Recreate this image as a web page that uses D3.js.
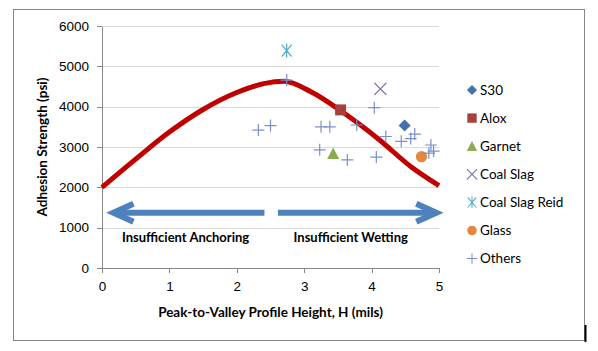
<!DOCTYPE html>
<html lang="en">
<head>
    <meta charset="UTF-8">
    <title>Adhesion Strength vs Profile Height</title>
    <script src="https://cdn.jsdelivr.net/npm/d3@7"></script>
    <style>
        body { margin: 0; background: #fff; }
        svg { font-family: Lato, "Open Sans", sans-serif; }
        .axis path, .axis line { fill: none; stroke: #868686; shape-rendering: crispEdges; }
        .axis text { font-size: 13.5px; fill: #000; }
        .grid line { stroke: #d9d9d9; shape-rendering: crispEdges; }
        .legend text { font-size: 13.5px; fill: #000; }
    </style>
</head>
<body>
<script>
    // series: [H (mils), adhesion (psi)]
    const s30 = [[4.49, 3530]];
    const alox = [[3.54, 3920]];
    const garnet = [[3.43, 2840]];
    const coalSlag = [[4.13, 4440]];
    const coalSlagReid = [[2.74, 5390]];
    const glass = [[4.74, 2760]];
    const others = [
        [2.74, 4660], [2.32, 3420], [2.50, 3530], [3.25, 3500], [3.38, 3500],
        [3.78, 3545], [4.04, 3975], [4.21, 3260], [4.44, 3140], [4.58, 3210],
        [4.64, 3320], [4.88, 3050], [4.92, 2900], [4.85, 2850], [4.07, 2750],
        [3.23, 2930], [3.64, 2680]
    ];

    // trend curve points
    const curveX = [0, 0.5, 1, 1.5, 2, 2.4, 2.7, 3.1, 3.6, 4.1, 4.6, 5];
    const curveY = [2000, 2700, 3370, 3930, 4350, 4570, 4630, 4370, 3830, 3200, 2490, 2040];

    const xTicks = [0, 1, 2, 3, 4, 5];
    const yTicks = [0, 1000, 2000, 3000, 4000, 5000, 6000];

    const series = [
        {name: 'S30', data: s30, type: 'diamond', color: '#4472a8'},
        {name: 'Alox', data: alox, type: 'square', color: '#a5403d'},
        {name: 'Garnet', data: garnet, type: 'triangle', color: '#8aac4f'},
        {name: 'Coal Slag', data: coalSlag, type: 'x', color: '#8064a2'},
        {name: 'Coal Slag Reid', data: coalSlagReid, type: 'star', color: '#4bacc6'},
        {name: 'Glass', data: glass, type: 'circle', color: '#e5873e'},
        {name: 'Others', data: others, type: 'plus', color: '#7b8fca'}
    ];

    const w = 598, h = 351;
    const svg = d3.select('body').append('svg').attr('width', w).attr('height', h);

    // chart border
    svg.append('rect')
        .attr('x', 13.5).attr('y', 9.5).attr('width', 571).attr('height', 331)
        .attr('fill', 'none').attr('stroke', '#868686');
    svg.append('line')
        .attr('x1', 585.5).attr('x2', 585.5).attr('y1', 325).attr('y2', 342)
        .attr('stroke', '#000').attr('stroke-width', 2);

    const xScale = d3.scaleLinear().domain([0, 5]).range([102, 439]);
    const yScale = d3.scaleLinear().domain([0, 6000]).range([268, 26]);

    // gridlines
    svg.append('g').attr('class', 'grid')
        .selectAll('line').data(yTicks.slice(1)).enter().append('line')
        .attr('x1', xScale(0)).attr('x2', xScale(5))
        .attr('y1', d => Math.round(yScale(d)) + 0.5)
        .attr('y2', d => Math.round(yScale(d)) + 0.5);

    const xAxis = d3.axisBottom(xScale).tickValues(xTicks).tickFormat(d3.format('d'))
        .tickSize(5).tickSizeOuter(0).tickPadding(8);
    svg.append('g').attr('class', 'axis')
        .attr('transform', 'translate(0,' + yScale(0) + ')')
        .call(xAxis);

    const yAxis = d3.axisLeft(yScale).tickValues(yTicks).tickFormat(d3.format('d'))
        .tickSize(5).tickSizeOuter(0).tickPadding(8);
    svg.append('g').attr('class', 'axis')
        .attr('transform', 'translate(' + xScale(0) + ',0)')
        .call(yAxis);

    // axis titles
    svg.append('text')
        .attr('transform', 'translate(47,' + ((yScale(0) + yScale(6000)) / 2) + ') rotate(-90)')
        .attr('text-anchor', 'middle')
        .attr('font-weight', 'bold').attr('font-size', '13.5px')
        .text('Adhesion Strength (psi)');
    svg.append('text')
        .attr('x', (xScale(0) + xScale(5)) / 2).attr('y', 317)
        .attr('text-anchor', 'middle')
        .attr('font-weight', 'bold').attr('font-size', '13.5px')
        .text('Peak-to-Valley Profile Height, H (mils)');

    // trend curve
    const line = d3.line()
        .x(d => xScale(d[0]))
        .y(d => yScale(d[1]))
        .curve(d3.curveMonotoneX);
    svg.append('path')
        .datum(curveX.map((x, i) => [x, curveY[i]]))
        .attr('d', line)
        .attr('fill', 'none')
        .attr('stroke', '#c00000')
        .attr('stroke-width', 5);

    // region arrows
    const arrowY = 1370;
    const arrowColor = '#4f81bd';
    function arrow(from, to) {
        const x1 = xScale(from), x2 = xScale(to), y = yScale(arrowY);
        const g = svg.append('g')
            .attr('fill', 'none').attr('stroke', arrowColor).attr('stroke-width', 6);
        g.append('line').attr('x1', x1).attr('x2', x2).attr('y1', y).attr('y2', y);
        const dir = from < to ? -1 : 1;
        g.append('path')
            .attr('d', 'M' + (x2 + dir * 20) + ',' + (y - 9) + 'L' + x2 + ',' + y + 'L' + (x2 + dir * 20) + ',' + (y + 9))
            .attr('stroke-linejoin', 'miter');
    }
    arrow(2.41, 0.17);
    arrow(2.61, 4.96);

    const regionLabels = [['Insufficient Anchoring', 1.24], ['Insufficient Wetting', 3.69]];
    svg.selectAll('.region').data(regionLabels).enter().append('text')
        .attr('class', 'region')
        .attr('x', d => xScale(d[1])).attr('y', yScale(650))
        .attr('text-anchor', 'middle')
        .attr('font-size', '13px').attr('font-weight', 'bold')
        .text(d => d[0]);

    // marker shapes
    function marker(type) {
        switch (type) {
            case 'diamond': return 'M0,-6L6,0L0,6L-6,0Z';
            case 'square': return 'M-5.5,-5.5H5.5V5.5H-5.5Z';
            case 'triangle': return 'M0,-6L6,5.5H-6Z';
            case 'x': return 'M-6,-6L6,6M-6,6L6,-6';
            case 'star': return 'M-5,-6L5,6M-5,6L5,-6M0,-7V7';
            case 'circle': return d3.symbol(d3.symbolCircle, 100)();
            case 'plus': return 'M-6,0H6M0,-6V6';
        }
    }
    const filled = t => ['diamond', 'square', 'triangle', 'circle'].includes(t);
    function styleMarker(sel, s) {
        if (filled(s.type)) sel.attr('fill', s.color).attr('stroke', 'none');
        else sel.attr('fill', 'none').attr('stroke', s.color).attr('stroke-width', 1.2);
    }

    series.forEach(s => {
        svg.append('g').selectAll('path').data(s.data).enter().append('path')
            .attr('d', marker(s.type))
            .attr('transform', d => 'translate(' + xScale(d[0]) + ',' + yScale(d[1]) + ')')
            .call(styleMarker, s);
    });

    // legend
    const legend = svg.append('g').attr('class', 'legend');
    const items = legend.selectAll('g').data(series).enter().append('g')
        .attr('transform', (d, i) => 'translate(472,' + (90 + i * 28.1) + ')');
    items.append('path')
        .attr('d', d => marker(d.type))
        .attr('transform', 'scale(0.85)')
        .each(function (d) { styleMarker(d3.select(this), d); });
    items.append('text')
        .attr('x', 8).attr('dy', '0.35em')
        .text(d => d.name);
</script>
</body>
</html>
